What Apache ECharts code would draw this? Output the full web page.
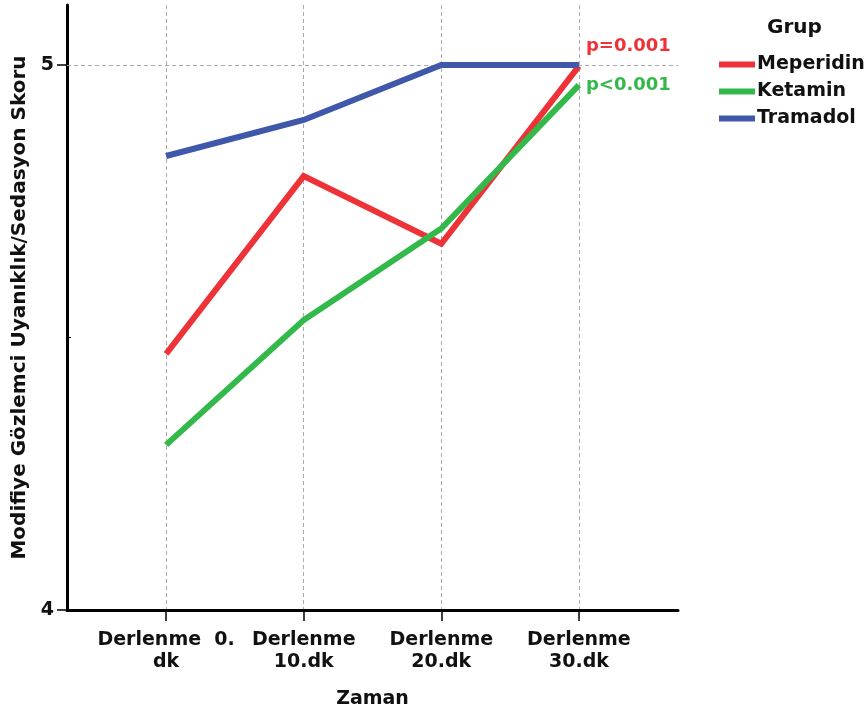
<!DOCTYPE html>
<html>
<head>
<meta charset="utf-8">
<script src="https://cdn.jsdelivr.net/npm/echarts@6/dist/echarts.min.js"></script>
<style>
  html, body { margin: 0; padding: 0; background: #fff; }
  #chart { width: 868px; height: 714px; }
</style>
</head>
<body>
<div id="chart"></div>
<script>
// Time points (x positions 0..3) and their labels
const timeLabels = ['Derlenme  0.\ndk', 'Derlenme\n10.dk', 'Derlenme\n20.dk', 'Derlenme\n30.dk'];
const timePositions = [0, 1, 2, 3];

// Mean scores per group
const meperidin = [4.470, 4.796, 4.672, 4.998];
const ketamin   = [4.303, 4.532, 4.700, 4.963];
const tramadol  = [4.833, 4.899, 5.000, 5.000];

// End-of-line p-values
const pMeperidin = 'p=0.001';
const pKetamin = 'p<0.001';

const groupNames = ['Meperidin', 'Ketamin', 'Tramadol'];
const groupColors = ['#ee3338', '#33b84a', '#3f58aa'];

const FONT = 'DejaVu Sans';

const chart = echarts.init(document.getElementById('chart'), null, { renderer: 'canvas' });

const lineSeries = (name, values, color, endText, dy) => ({
  name: name,
  type: 'line',
  data: values.map((v, i) => [timePositions[i], v]),
  showSymbol: false,
  symbol: 'none',
  lineStyle: { width: 6, color: color, join: 'miter' },
  itemStyle: { color: color },
  endLabel: endText ? {
    show: true,
    formatter: endText,
    distance: 7,
    offset: [0, dy],
    color: color,
    fontFamily: FONT,
    fontWeight: 'bold',
    fontSize: 18
  } : { show: false },
  z: 5
});

const series = [
  lineSeries(groupNames[0], meperidin, groupColors[0], pMeperidin, -20),
  lineSeries(groupNames[1], ketamin, groupColors[1], pKetamin, 0),
  lineSeries(groupNames[2], tramadol, groupColors[2], null, 0)
];

// Horizontal reference line at 5
series[2].markLine = {
  silent: true,
  symbol: 'none',
  label: { show: false },
  lineStyle: { color: '#aaaaaa', type: [4, 3], width: 1 },
  data: [{ yAxis: 5 }],
  z: 1
};

chart.setOption({
  backgroundColor: '#ffffff',
  animation: false,
  title: {
    text: 'Grup',
    left: 762,
    top: 13,
    textStyle: { fontFamily: FONT, fontWeight: 'bold', fontSize: 20, color: '#111' }
  },
  legend: {
    orient: 'vertical',
    left: 714,
    top: 50,
    itemWidth: 36,
    itemHeight: 6,
    itemGap: 8,
    icon: 'rect',
    data: groupNames,
    textStyle: { fontFamily: FONT, fontWeight: 'bold', fontSize: 19, color: '#111', padding: [0, 0, 0, -3] }
  },
  grid: { left: 67, right: 190, top: 5, bottom: 104, outerBoundsMode: 'none', containLabel: false },
  xAxis: {
    type: 'value',
    min: -0.72,
    max: 3.72,
    name: 'Zaman',
    nameLocation: 'middle',
    nameGap: 80,
    nameTextStyle: { fontFamily: FONT, fontWeight: 'bold', fontSize: 19, color: '#111' },
    axisLine: { show: true, onZero: false, lineStyle: { color: '#000', width: 3 } },
    axisTick: { show: true, length: 11, customValues: timePositions, lineStyle: { color: '#000', width: 1.5 } },
    axisLabel: {
      customValues: timePositions,
      formatter: (v) => timeLabels[Math.round(v)],
      margin: 19,
      lineHeight: 22,
      fontFamily: FONT,
      fontWeight: 'bold',
      fontSize: 19,
      color: '#111'
    },
    splitLine: { show: true, lineStyle: { color: '#aaaaaa', type: [4, 3], width: 1 } }
  },
  yAxis: [{
    type: 'value',
    min: 4,
    max: 5.11,
    name: 'Modifiye Gözlemci Uyanıklık/Sedasyon Skoru',
    nameLocation: 'middle',
    nameGap: 37,
    nameTextStyle: { fontFamily: FONT, fontWeight: 'bold', fontSize: 20, color: '#111' },
    axisLine: { show: true, onZero: false, lineStyle: { color: '#000', width: 3 } },
    axisTick: { show: true, length: 10, customValues: [4, 5], lineStyle: { color: '#000', width: 1.5 } },
    axisLabel: {
      customValues: [4, 5],
      margin: 13,
      fontFamily: FONT,
      fontWeight: 'bold',
      fontSize: 19,
      color: '#111'
    },
    splitLine: { show: false }
  }, {
    type: 'value',
    min: 4,
    max: 5.11,
    position: 'left',
    axisLine: { show: false, onZero: false },
    axisTick: { show: true, inside: true, length: 4, customValues: [4.5], lineStyle: { color: '#000', width: 1 } },
    axisLabel: { show: false },
    splitLine: { show: false }
  }],
  series: series
});
</script>
</body>
</html>
